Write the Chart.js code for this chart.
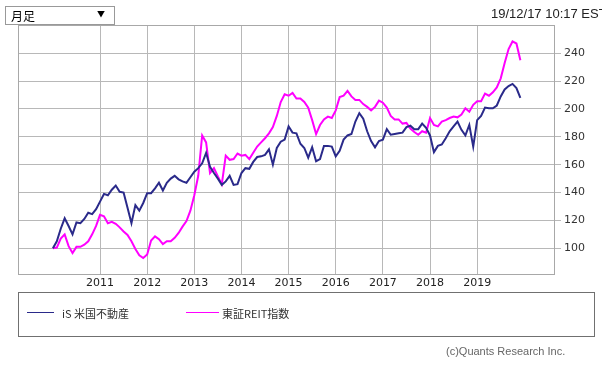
<!DOCTYPE html>
<html>
<head>
<meta charset="utf-8">
<script src="https://cdn.jsdelivr.net/npm/chart.js@4/dist/chart.umd.min.js"></script>
<style>
  html, body { margin: 0; padding: 0; background: #fff; overflow: hidden; }
  body { width: 602px; height: 367px; position: relative; font-family: "Liberation Sans", "Noto Sans CJK JP", sans-serif; }
  #wrap { position: absolute; left: 0; top: 0; width: 602px; height: 367px; }
  .select { position: absolute; left: 5px; top: 6px; width: 108px; height: 17px; border: 1px solid #999; font-family: "Noto Sans CJK JP", sans-serif; font-size: 12px; line-height: 18px; color: #000; }
  .select .txt { position: absolute; left: 5px; top: 0; }
  .select .arr { position: absolute; right: 9px; top: -2px; font-size: 8px; }
  .stamp { position: absolute; left: 491px; top: 6px; font-size: 13px; color: #222; white-space: nowrap; }
  .legend { position: absolute; left: 18px; top: 292px; width: 575px; height: 43px; border: 1.5px solid #707070; }
  .legend .line { position: absolute; top: 19px; height: 1px; }
  .legend .lbl { position: absolute; top: 12px; font-family: "Noto Sans CJK JP", sans-serif; font-size: 11px; color: #333; white-space: nowrap; }
  .copy { position: absolute; left: 446px; top: 345px; font-size: 11px; color: #666; white-space: nowrap; }
</style>
</head>
<body>
<div id="wrap"><canvas id="chart"></canvas></div>
<div class="select"><span class="txt">月足</span><span class="arr">▼</span></div>
<div class="stamp">19/12/17 10:17 EST</div>
<div class="legend">
  <div class="line" style="left:8px;width:27px;background:#2a2a8a;"></div>
  <div class="lbl" style="left:43px;">iS 米国不動産</div>
  <div class="line" style="left:167px;width:33px;background:#ff00ff;"></div>
  <div class="lbl" style="left:203px;">東証REIT指数</div>
</div>
<div class="copy">(c)Quants Research Inc.</div>
<script>
// monthly closes, Jan 2010 .. Dec 2019 (indexed to 100)
const seriesNames = ['iS 米国不動産', '東証REIT指数'];

const usReit = [
  100, 105, 114, 121.5, 116, 110, 118.5, 118, 121, 125.5, 124.5, 128,
  133.5, 139, 138, 142, 145, 140.5, 140, 129, 118, 131, 127, 132.5,
  139.5, 139.5, 143, 147, 141.5, 147, 150, 152, 149.5, 148, 147, 151,
  155, 157.5, 161, 168.5, 158.5, 154, 150, 145.5, 148, 152, 145.5, 146,
  154, 157.5, 157, 162, 165.5, 166, 167, 171, 160, 172, 176.5, 178,
  187.5, 183, 182.5, 175, 172, 165, 172.5, 162.5, 164, 173.5, 173.5, 173,
  166, 170, 178, 181, 182, 191, 197, 193, 184, 177, 172.5, 177,
  178, 185.5, 181.5, 182, 182.5, 183, 187, 188, 185.5, 185.5, 189.5, 186.5,
  181, 169, 173.5, 174.5, 179, 184, 187.5, 191, 185, 181, 188.5, 173,
  192, 195, 201, 200.5, 200.5, 202.5, 209, 214, 216.5, 218, 215, 208
];

const tseReit = [
  100, 100.5, 107, 110, 101.5, 96.5, 101, 101, 102.5, 105, 110, 116,
  124, 123, 118, 119, 117.5, 115, 112, 109.5, 105, 99.5, 95, 93,
  95.5, 105.5, 108.5, 106.5, 103, 105, 105, 107.5, 111, 115.5, 119.5, 127,
  138, 152, 181, 176, 154, 157.5, 151.5, 146, 166.5, 163.5, 164, 168,
  166.5, 167, 164, 168.5, 173, 176, 179, 182.5, 187, 195, 205, 210.5,
  209.5, 211.5, 207.5, 207.5, 205, 201, 192, 182, 188.5, 192.5, 194.5, 193.5,
  199, 208.5, 209.5, 213, 209, 206.5, 206.5, 203.5, 201.5, 199, 201.5, 206,
  204.5, 201, 195, 192.5, 192.5, 189.5, 190, 186, 183.5, 181.5, 184, 183,
  193.5, 188.5, 187.5, 191, 192, 193.5, 194.5, 194, 196, 200.5, 198, 203,
  205.5, 205.5, 211, 209.5, 212, 215.5, 222, 233, 243, 248.5, 247, 235
];

const yearTicks = [2011, 2012, 2013, 2014, 2015, 2016, 2017, 2018, 2019];
const valueTicks = [100, 120, 140, 160, 180, 200, 220, 240];

// month positions as decimal years
const months = [];
for (let y = 2010; y <= 2019; y++) {
  for (let m = 0; m < 12; m++) months.push(y + m / 12);
}

const toPoints = vals => vals.map((v, i) => ({ x: months[i], y: v }));

// outline the whole plot area (chart.js only draws the axis sides)
const frame = {
  id: 'frame',
  afterDraw(chart) {
    const a = chart.chartArea, c = chart.ctx;
    c.save();
    c.strokeStyle = '#a8a8a8';
    c.lineWidth = 1;
    c.strokeRect(Math.round(a.left) + 0.5, Math.round(a.top) + 0.5,
      Math.round(a.right - a.left), Math.round(a.bottom - a.top));
    c.restore();
  }
};

const ctx = document.getElementById('chart').getContext('2d');
new Chart(ctx, {
  type: 'line',
  data: {
    datasets: [{
      label: seriesNames[0],
      data: toPoints(usReit),
      borderColor: '#2a2a8a',
      borderWidth: 2,
      pointRadius: 0,
      tension: 0
    }, {
      label: seriesNames[1],
      data: toPoints(tseReit),
      borderColor: '#ff00ff',
      borderWidth: 2,
      pointRadius: 0,
      tension: 0
    }]
  },
  options: {
    responsive: true,
    maintainAspectRatio: false,
    animation: false,
    layout: { padding: { left: 18, top: 25, right: 0, bottom: 0 } },
    plugins: { legend: { display: false }, tooltip: { enabled: false } },
    scales: {
      x: {
        type: 'linear',
        min: 2009.26,
        max: 2020.63,
        afterBuildTicks: s => { s.ticks = yearTicks.map(v => ({ value: v })); },
        afterFit: s => { s.height = 93; },
        grid: { color: '#b8b8b8', drawTicks: false },
        border: { color: '#a8a8a8' },
        ticks: {
          padding: 3,
          color: '#222',
          font: { family: 'DejaVu Sans', size: 11 },
          maxRotation: 0,
          callback: v => String(v)
        }
      },
      y: {
        position: 'right',
        min: 81.5,
        max: 260.3,
        afterBuildTicks: s => { s.ticks = valueTicks.map(v => ({ value: v })); },
        afterFit: s => { s.width = 48; },
        grid: { color: '#b8b8b8', tickLength: 7 },
        border: { color: '#a8a8a8' },
        ticks: {
          padding: 3,
          color: '#333',
          font: { family: 'DejaVu Sans', size: 11 }
        }
      }
    }
  },
  plugins: [frame]
});
</script>
</body>
</html>
